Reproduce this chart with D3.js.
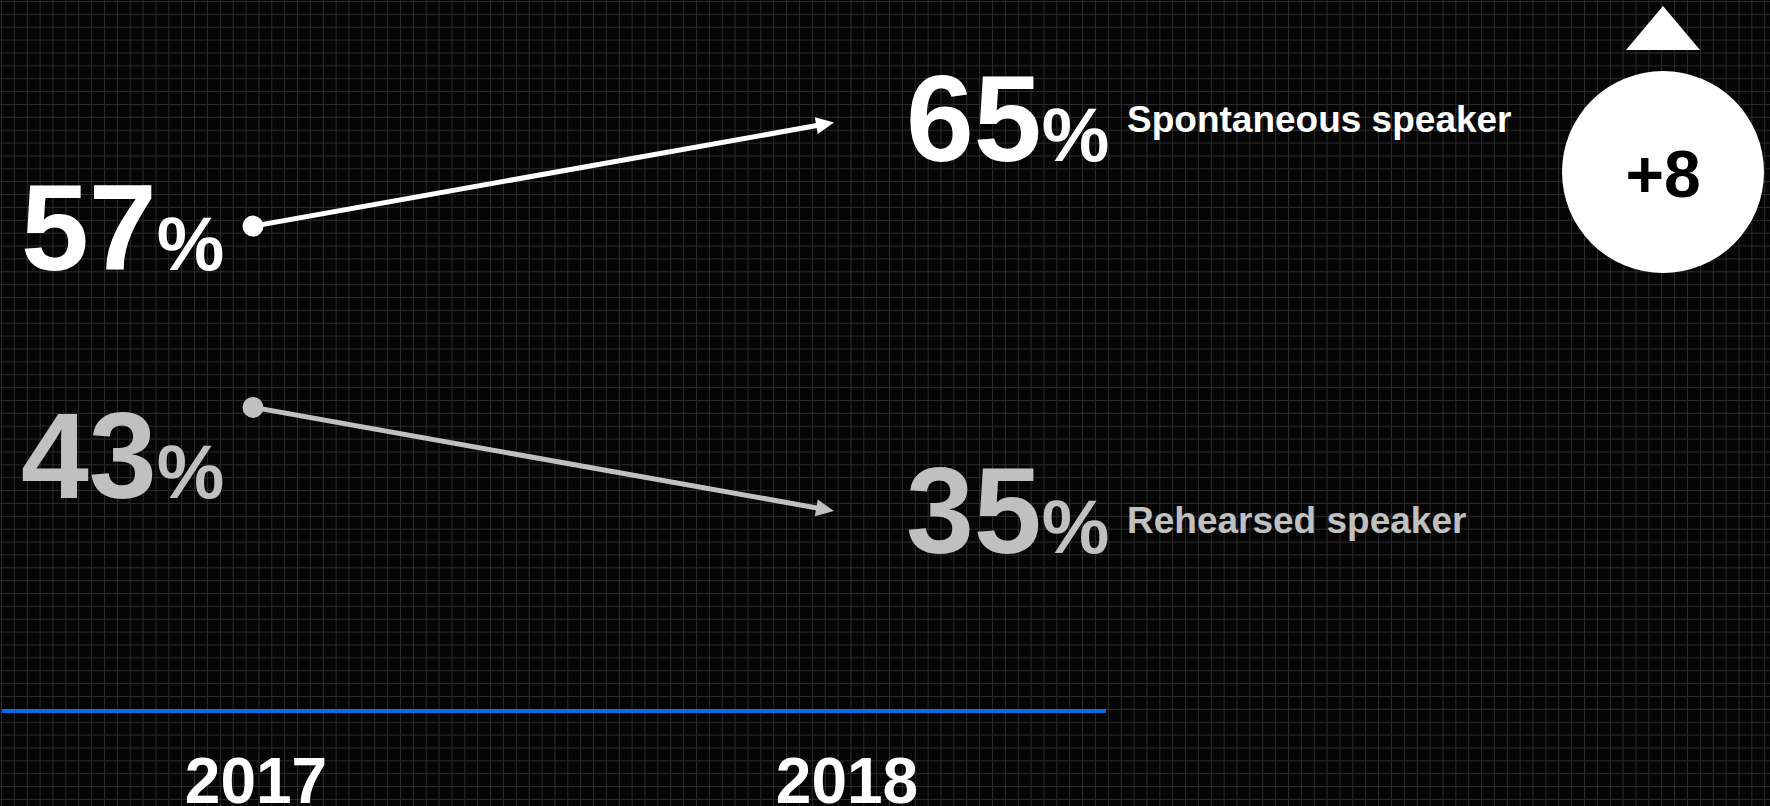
<!DOCTYPE html>
<html>
<head>
<meta charset="utf-8">
<script src="https://cdn.jsdelivr.net/npm/d3@7"></script>
<style>
  html, body { margin: 0; padding: 0; background: #050505; }
  svg { display: block; }
  text { font-family: "Liberation Sans", Arial, sans-serif; font-weight: bold; }
</style>
</head>
<body>
<svg id="chart" width="1770" height="806"></svg>
<script>
// ---- data ----
const categories = ["2017", "2018"];
const seriesNames = ["Spontaneous speaker", "Rehearsed speaker"];
const spontaneous = [57, 65];
const rehearsed = [43, 35];
const seriesColors = ["#ffffff", "#c0c0c0"];
const changeLabel = "+8";

const W = 1770, H = 806;
const svg = d3.select("#chart");

// background + grid
svg.append("rect").attr("width", W).attr("height", H).attr("fill", "#050505");
const gridStep = 12.87;
const grid = svg.append("g").attr("stroke", "#2c2c2c").attr("stroke-width", 1);
grid.selectAll("line.v").data(d3.range(1.5, W, gridStep)).join("line")
  .attr("x1", d => d).attr("x2", d => d).attr("y1", 0).attr("y2", H);
grid.selectAll("line.h").data(d3.range(1.5, H, gridStep)).join("line")
  .attr("x1", 0).attr("x2", W).attr("y1", d => d).attr("y2", d => d);

// scales
const x = d3.scalePoint().domain(categories).range([253, 834]);
const xLabel = d3.scalePoint().domain(categories).range([256, 847]);
const y = d3.scaleLinear().domain([35, 65]).range([511, 122.5]);

const series = [
  { name: seriesNames[0], values: spontaneous, color: seriesColors[0], startBase: 270, endBase: 161, nameBase: 132 },
  { name: seriesNames[1], values: rehearsed, color: seriesColors[1], startBase: 498, endBase: 553, nameBase: 533 }
];

// arrows
const headLen = 18, headHalf = 8.5;
series.forEach(s => {
  const x0 = x(categories[0]), y0 = y(s.values[0]);
  const x1 = x(categories[1]), y1 = y(s.values[1]);
  const ang = Math.atan2(y1 - y0, x1 - x0);
  const bx = x1 - headLen * Math.cos(ang), by = y1 - headLen * Math.sin(ang);
  svg.append("line")
    .attr("x1", x0).attr("y1", y0).attr("x2", bx + 2 * Math.cos(ang)).attr("y2", by + 2 * Math.sin(ang))
    .attr("stroke", s.color).attr("stroke-width", 5);
  const deg = ang * 180 / Math.PI;
  svg.append("path")
    .attr("d", `M0,0 L${-headLen},${-headHalf} L${-headLen},${headHalf} Z`)
    .attr("transform", `translate(${x1},${y1}) rotate(${deg})`)
    .attr("fill", s.color);
  svg.append("circle").attr("cx", x0).attr("cy", y0).attr("r", 10.5).attr("fill", s.color);
});

// value labels
function bigLabel(xPos, baseline, value, color) {
  const t = svg.append("text").attr("x", xPos).attr("y", baseline).attr("fill", color);
  t.append("tspan").attr("font-size", 122).text(value);
  t.append("tspan").attr("font-size", 76).text("%");
}
series.forEach(s => {
  bigLabel(21, s.startBase, s.values[0], s.color);
  bigLabel(906, s.endBase, s.values[1], s.color);
  svg.append("text")
    .attr("x", 1127).attr("y", s.nameBase)
    .attr("font-size", 37).attr("fill", s.color)
    .text(s.name);
});

// baseline axis line
svg.append("line").attr("x1", 2).attr("x2", 1106).attr("y1", 711).attr("y2", 711)
  .attr("stroke", "#0b6ae6").attr("stroke-width", 4);

// axis labels
svg.selectAll("text.year").data(categories).join("text")
  .attr("class", "year")
  .attr("x", d => xLabel(d)).attr("y", 803)
  .attr("text-anchor", "middle").attr("font-size", 64).attr("fill", "#ffffff")
  .text(d => d);

// change badge
const bx = 1663;
svg.append("path").attr("d", `M${bx},6 L${bx + 37},50 L${bx - 37},50 Z`).attr("fill", "#ffffff");
svg.append("circle").attr("cx", bx).attr("cy", 172).attr("r", 101).attr("fill", "#ffffff");
svg.append("text").attr("x", bx).attr("y", 197).attr("text-anchor", "middle")
  .attr("font-size", 66).attr("fill", "#000000").text(changeLabel);
</script>
</body>
</html>
